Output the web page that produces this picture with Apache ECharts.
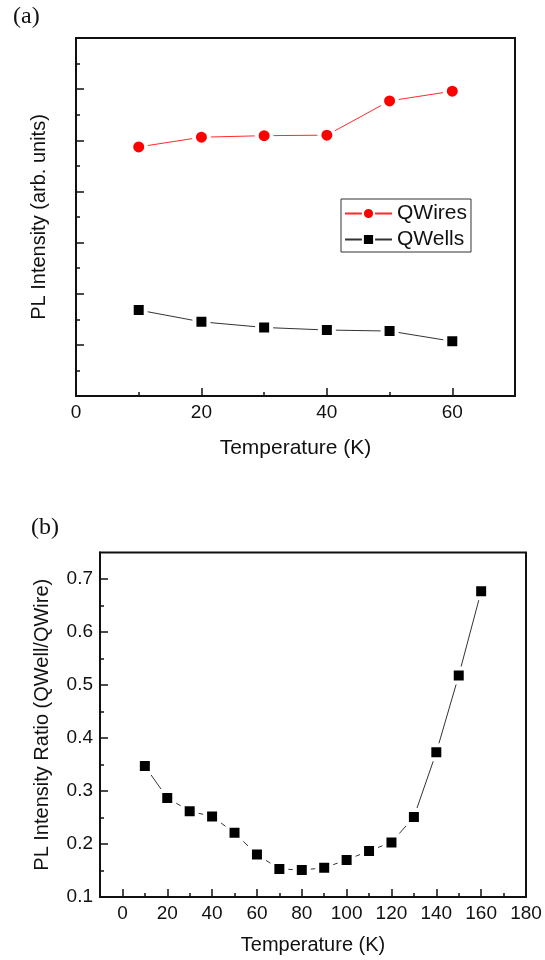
<!DOCTYPE html>
<html><head><meta charset="utf-8">
<script src="https://cdn.jsdelivr.net/npm/echarts@6/dist/echarts.min.js"></script>
<style>html,body{margin:0;padding:0;background:#fff}#c{width:545px;height:960px}</style>
</head><body><div id="c"></div>
<script>
// ---- Data: panel (a) ----
const tempA = [10, 20, 30, 40, 50, 60];
const qwires = [4.87, 5.06, 5.09, 5.10, 5.77, 5.96];
const qwells = [1.68, 1.45, 1.34, 1.29, 1.27, 1.07];
const xTicksA = [0, 20, 40, 60];
const xMinorA = [10, 30, 50];
const yTicksA = [0, 1, 2, 3, 4, 5, 6, 7];
const yMinorA = [0.5, 1.5, 2.5, 3.5, 4.5, 5.5, 6.5];
// ---- Data: panel (b) ----
const tempB = [10, 20, 30, 40, 50, 60, 70, 80, 90, 100, 110, 120, 130, 140, 150, 160];
const ratio = [0.347, 0.287, 0.262, 0.252, 0.221, 0.180, 0.153, 0.151, 0.155, 0.170, 0.187, 0.203, 0.251, 0.373, 0.518, 0.677];
const xTicksB = [0, 20, 40, 60, 80, 100, 120, 140, 160, 180];
const xMinorB = [10, 30, 50, 70, 90, 110, 130, 150, 170];
const yTicksB = [0.1, 0.2, 0.3, 0.4, 0.5, 0.6, 0.7];
const yMinorB = [0.15, 0.25, 0.35, 0.45, 0.55, 0.65];

const FONT = 'Liberation Sans';
const INK = '#111';

function majorAxis(o) {
  return Object.assign({
    type: 'value',
    axisLine: { show: true, onZero: false, lineStyle: { color: INK, width: 2 } },
    axisTick: { show: true, inside: true, length: 8, customValues: o.ticks, lineStyle: { color: INK, width: 1.5 } },
    axisLabel: o.labels ? { show: true, customValues: o.labels, fontSize: 19, color: INK, fontFamily: FONT, margin: 7,
      formatter: o.fmt || (v => String(v)) } : { show: false },
    splitLine: { show: false },
    nameLocation: 'middle',
    nameTextStyle: { fontSize: o.nameSize || 20, color: INK, fontFamily: FONT }
  }, o.extra);
}
function minorAxis(o) {
  return Object.assign({
    type: 'value',
    axisLine: { show: false, onZero: false },
    axisTick: { show: true, inside: true, length: 4, customValues: o.ticks, lineStyle: { color: INK, width: 1.5 } },
    axisLabel: { show: false },
    splitLine: { show: false }
  }, o.extra);
}

const chart = echarts.init(document.getElementById('c'), null, { renderer: 'canvas' });
chart.setOption({
  animation: false,
  backgroundColor: '#fff',
  textStyle: { fontFamily: FONT },
  graphic: [
    { type: 'text', left: 13, top: 5, style: { text: '(a)', font: '24px "Liberation Serif"', fill: INK } },
    { type: 'text', left: 31, top: 516, style: { text: '(b)', font: '24px "Liberation Serif"', fill: INK } }
  ],
  legend: {
    data: ['QWires', 'QWells'],
    orient: 'vertical',
    left: 341, top: 199,
    padding: [4, 4, 2, 3],
    itemGap: 5,
    itemWidth: 47, itemHeight: 14,
    borderColor: '#333', borderWidth: 1,
    textStyle: { fontSize: 21, color: INK, fontFamily: FONT },
    itemStyle: { borderWidth: 2 }
  },
  grid: [
    { left: 76, top: 38, right: 30, bottom: 564, show: true, borderColor: INK, borderWidth: 2, backgroundColor: 'transparent' },
    { left: 100, top: 552.5, right: 19, bottom: 63, show: true, borderColor: INK, borderWidth: 2, backgroundColor: 'transparent' }
  ],
  xAxis: [
    majorAxis({ ticks: xTicksA, labels: xTicksA, nameSize: 21, extra: { gridIndex: 0, position: 'bottom', min: 0, max: 70, name: 'Temperature (K)', nameGap: 42 } }),
    minorAxis({ ticks: xMinorA, extra: { gridIndex: 0, position: 'bottom', min: 0, max: 70 } }),
    majorAxis({ ticks: xTicksB, labels: xTicksB, extra: { gridIndex: 1, position: 'bottom', min: -10, max: 180, name: 'Temperature (K)', nameGap: 38 } }),
    minorAxis({ ticks: xMinorB, extra: { gridIndex: 1, position: 'bottom', min: -10, max: 180 } })
  ],
  yAxis: [
    majorAxis({ ticks: yTicksA, labels: null, extra: { gridIndex: 0, position: 'left', min: 0, max: 7, name: 'PL Intensity (arb. units)', nameGap: 27 } }),
    minorAxis({ ticks: yMinorA, extra: { gridIndex: 0, position: 'left', min: 0, max: 7 } }),
    majorAxis({ ticks: yTicksB, labels: yTicksB, fmt: v => v.toFixed(1), extra: { gridIndex: 1, position: 'left', min: 0.1, max: 0.75, name: 'PL Intensity Ratio (QWell/QWire)', nameGap: 48 } }),
    minorAxis({ ticks: yMinorB, extra: { gridIndex: 1, position: 'left', min: 0.1, max: 0.75 } })
  ],
  series: [
    {
      name: 'QWires', type: 'line', xAxisIndex: 0, yAxisIndex: 0,
      data: tempA.map((t, i) => [t, qwires[i]]),
      symbol: 'circle', symbolSize: 15,
      itemStyle: { color: '#ff0000', borderColor: '#fff', borderWidth: 4 },
      lineStyle: { color: '#ff2a2a', width: 1 }
    },
    {
      name: 'QWells', type: 'line', xAxisIndex: 0, yAxisIndex: 0,
      data: tempA.map((t, i) => [t, qwells[i]]),
      symbol: 'rect', symbolSize: 14,
      itemStyle: { color: '#000', borderColor: '#fff', borderWidth: 4 },
      lineStyle: { color: '#333', width: 1 }
    },
    {
      name: 'Ratio', type: 'line', xAxisIndex: 2, yAxisIndex: 2,
      data: tempB.map((t, i) => [t, ratio[i]]),
      symbol: 'rect', symbolSize: 14,
      itemStyle: { color: '#000', borderColor: '#fff', borderWidth: 4 },
      lineStyle: { color: '#333', width: 1 }
    }
  ]
});
</script></body></html>
